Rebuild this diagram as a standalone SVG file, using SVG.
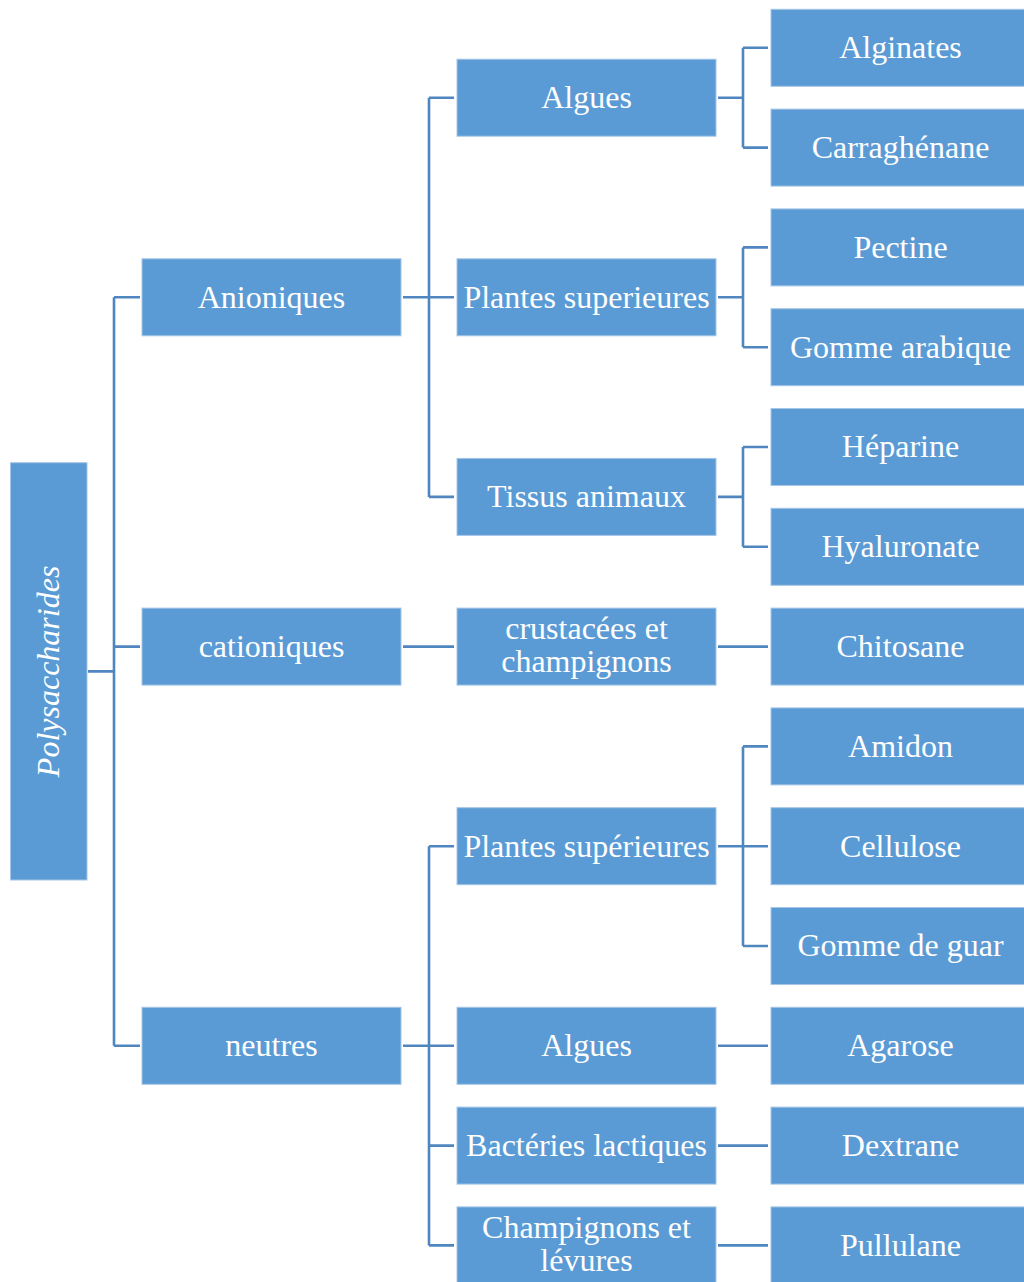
<svg xmlns="http://www.w3.org/2000/svg" width="1024" height="1282" viewBox="0 0 1024 1282">
<style>
.box{fill:#5B9BD5;stroke:#A6C6E7;stroke-width:1}
.t{fill:#FFFFFF;font-family:"Liberation Serif","Times New Roman",serif;font-size:32px;text-anchor:middle}
.c{fill:none;stroke:#4F86C0;stroke-width:2.6}
</style>
<rect width="1024" height="1282" fill="#FFFFFF"/>
<g id="connectors">
<path class="c" d="M88 671.4H114M114 297.3V1045.8M114 297.3H140M114 646.6H140M114 1045.8H140"/>
<path class="c" d="M403 297.3H454M429 97.7V496.9M429 97.7H454M429 496.9H454"/>
<path class="c" d="M403 646.6H454M718 646.6H768"/>
<path class="c" d="M403 1045.8H454M429 846.2V1245.4M429 846.2H454M429 1145.6H454M429 1245.4H454"/>
<path class="c" d="M718 97.7H743M743 47.8V147.6M743 47.8H768M743 147.6H768"/>
<path class="c" d="M718 297.3H743M743 247.4V347.2M743 247.4H768M743 347.2H768"/>
<path class="c" d="M718 496.9H743M743 447V546.8M743 447H768M743 546.8H768"/>
<path class="c" d="M718 846.2H768M743 746.4V946M743 746.4H768M743 946H768"/>
<path class="c" d="M718 1045.8H768M718 1145.6H768M718 1245.4H768"/>
</g>
<g id="root">
<rect class="box" x="10.5" y="462.7" width="76.5" height="417.3"/>
<text class="t" font-style="italic" transform="translate(59 671.4) rotate(-90)" x="0" y="0">Polysaccharides</text>
</g>
<g id="anioniques"><rect class="box" x="142" y="258.8" width="259" height="77"/><text class="t" x="271.5" y="307.7">Anioniques</text></g>
<g id="cationiques"><rect class="box" x="142" y="608.1" width="259" height="77"/><text class="t" x="271.5" y="657">cationiques</text></g>
<g id="neutres"><rect class="box" x="142" y="1007.3" width="259" height="77"/><text class="t" x="271.5" y="1056.2">neutres</text></g>
<g id="algues1"><rect class="box" x="457" y="59.2" width="259" height="77"/><text class="t" x="586.5" y="108.1">Algues</text></g>
<g id="plantes1"><rect class="box" x="457" y="258.8" width="259" height="77"/><text class="t" x="586.5" y="307.7">Plantes superieures</text></g>
<g id="tissus"><rect class="box" x="457" y="458.4" width="259" height="77"/><text class="t" x="586.5" y="507.3">Tissus animaux</text></g>
<g id="crustacees"><rect class="box" x="457" y="608.1" width="259" height="77"/><text class="t" x="586.5" y="639">crustacées et</text><text class="t" x="586.5" y="672">champignons</text></g>
<g id="plantes2"><rect class="box" x="457" y="807.7" width="259" height="77"/><text class="t" x="586.5" y="856.6">Plantes supérieures</text></g>
<g id="algues2"><rect class="box" x="457" y="1007.3" width="259" height="77"/><text class="t" x="586.5" y="1056.2">Algues</text></g>
<g id="bacteries"><rect class="box" x="457" y="1107.1" width="259" height="77"/><text class="t" x="586.5" y="1156">Bactéries lactiques</text></g>
<g id="champignons"><rect class="box" x="457" y="1206.9" width="259" height="77"/><text class="t" x="586.5" y="1237.5">Champignons et</text><text class="t" x="586.5" y="1270.5">lévures</text></g>
<g id="alginates"><rect class="box" x="771" y="9.3" width="259" height="77"/><text class="t" x="900.5" y="58.2">Alginates</text></g>
<g id="carraghenane"><rect class="box" x="771" y="109.1" width="259" height="77"/><text class="t" x="900.5" y="158">Carraghénane</text></g>
<g id="pectine"><rect class="box" x="771" y="208.9" width="259" height="77"/><text class="t" x="900.5" y="257.8">Pectine</text></g>
<g id="gomme-arabique"><rect class="box" x="771" y="308.7" width="259" height="77"/><text class="t" x="900.5" y="357.6">Gomme arabique</text></g>
<g id="heparine"><rect class="box" x="771" y="408.5" width="259" height="77"/><text class="t" x="900.5" y="457.4">Héparine</text></g>
<g id="hyaluronate"><rect class="box" x="771" y="508.3" width="259" height="77"/><text class="t" x="900.5" y="557.2">Hyaluronate</text></g>
<g id="chitosane"><rect class="box" x="771" y="608.1" width="259" height="77"/><text class="t" x="900.5" y="657">Chitosane</text></g>
<g id="amidon"><rect class="box" x="771" y="707.9" width="259" height="77"/><text class="t" x="900.5" y="756.8">Amidon</text></g>
<g id="cellulose"><rect class="box" x="771" y="807.7" width="259" height="77"/><text class="t" x="900.5" y="856.6">Cellulose</text></g>
<g id="gomme-guar"><rect class="box" x="771" y="907.5" width="259" height="77"/><text class="t" x="900.5" y="956.4">Gomme de guar</text></g>
<g id="agarose"><rect class="box" x="771" y="1007.3" width="259" height="77"/><text class="t" x="900.5" y="1056.2">Agarose</text></g>
<g id="dextrane"><rect class="box" x="771" y="1107.1" width="259" height="77"/><text class="t" x="900.5" y="1156">Dextrane</text></g>
<g id="pullulane"><rect class="box" x="771" y="1206.9" width="259" height="77"/><text class="t" x="900.5" y="1255.8">Pullulane</text></g>
</svg>
